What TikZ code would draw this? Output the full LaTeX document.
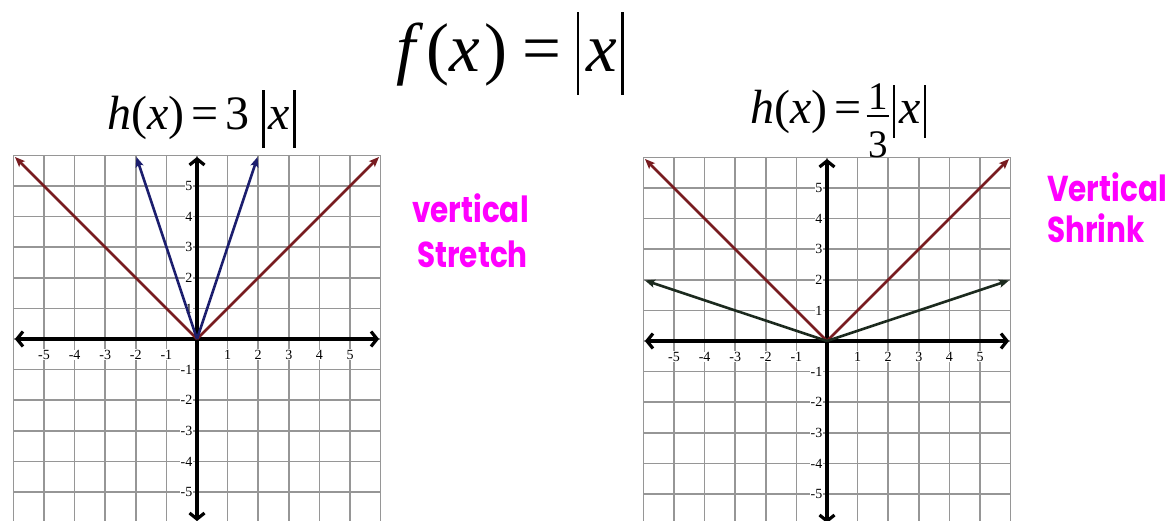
\documentclass[tikz,border=0pt]{standalone}
\usepackage{fontspec}
\usepackage{graphicx}
\setmainfont{Liberation Serif}
\newfontfamily\handfont{Poppins}
\usetikzlibrary{arrows.meta}
\definecolor{fnred}{RGB}{120,28,32}
\definecolor{fnblue}{RGB}{28,30,110}
\definecolor{fngreen}{RGB}{28,42,30}
\definecolor{gridgray}{RGB}{150,150,150}
\definecolor{handpink}{RGB}{255,0,255}
\newcommand{\absbar}[2]{\rule[-#2]{2.6pt}{\dimexpr#1+#2\relax}}
\newcommand{\tallhand}[1]{\scalebox{1}[1.22]{#1}}
\newcommand{\onethird}{\raisebox{-3pt}{\fontsize{39}{39}\selectfont\setlength{\arrayrulewidth}{2pt}\setlength{\tabcolsep}{1.5pt}\renewcommand{\arraystretch}{0}\begin{tabular}{c}\rule[-6pt]{0pt}{26pt}1\\\hline\rule{0pt}{40pt}3\end{tabular}}}
\begin{document}
\begin{tikzpicture}[x=1pt,y=-1pt,
  gridline/.style={gridgray, line width=1.6pt},
  axisline/.style={black, line width=3.2pt, {Straight Barb[length=6pt,width=15pt]}-{Straight Barb[length=6pt,width=15pt]}},
  fnline/.style={line width=2.6pt, -{Stealth[length=10pt,width=8pt,inset=2pt]}},
  ticklab/.style={font=\fontsize{14}{14}\selectfont, fill=white, inner sep=0.8pt},
  title/.style={anchor=base west, inner sep=0pt, font=\fontsize{48}{48}\selectfont},
  hand/.style={anchor=base west, inner sep=0pt, text=handpink, font=\handfont\bfseries\fontsize{29.5}{29.5}\selectfont}]
\useasboundingbox (0,0) rectangle (1175,521);
\fill[white] (0,0) rectangle (1175,521);

% ---------- left graph ----------
\begin{scope}[shift={(197,339)}, x=30.6pt, y=30.6pt]
  \foreach \i in {-6,...,6} {
    \draw[gridline] (\i,-6.2) -- (\i,6);
    \draw[gridline] (-6,\i) -- (6,\i);
  }
  \foreach \i in {-5,...,-1,1,2,3,4,5} {
    \node[ticklab] (Lx\i) at (\i,-0.52) {\i};
    \node[ticklab, anchor=east] (Ly\i) at (-0.12,\i) {\i};
  }
  \coordinate (LO) at (0,0);
  \coordinate (Lxa) at (-5.95,0);
  \coordinate (Lxb) at (5.95,0);
  \coordinate (Lya) at (0,-5.95);
  \coordinate (Lyb) at (0,5.95);
  \coordinate (Lr1) at (-5.95,5.95);
  \coordinate (Lr2) at (5.95,5.95);
  \coordinate (Lb1) at (-1.98,5.95);
  \coordinate (Lb2) at (1.98,5.95);
  \draw[axisline] (Lxa) -- (Lxb);
  \draw[axisline] (Lya) -- (Lyb);
  \draw[fnline, fnred] (LO) -- (Lr1);
  \draw[fnline, fnred] (LO) -- (Lr2);
  \draw[fnline, fnblue] (LO) -- (Lb1);
  \draw[fnline, fnblue] (LO) -- (Lb2);
\end{scope}

% ---------- right graph ----------
\begin{scope}[shift={(827,341)}, x=30.6pt, y=30.6pt]
  \foreach \i in {-6,...,6} {
    \draw[gridline] (\i,-6.2) -- (\i,6);
    \draw[gridline] (-6,\i) -- (6,\i);
  }
  \foreach \i in {-5,...,-1,1,2,3,4,5} {
    \node[ticklab] (Rx\i) at (\i,-0.52) {\i};
    \node[ticklab, anchor=east] (Ry\i) at (-0.12,\i) {\i};
  }
  \coordinate (RO) at (0,0);
  \coordinate (Rxa) at (-5.95,0);
  \coordinate (Rxb) at (5.95,0);
  \coordinate (Rya) at (0,-5.95);
  \coordinate (Ryb) at (0,5.95);
  \coordinate (Rr1) at (-5.95,5.95);
  \coordinate (Rr2) at (5.95,5.95);
  \coordinate (Rg1) at (-5.95,1.98);
  \coordinate (Rg2) at (5.95,1.98);
  \draw[axisline] (Rxa) -- (Rxb);
  \draw[axisline] (Rya) -- (Ryb);
  \draw[fnline, fnred] (RO) -- (Rr1);
  \draw[fnline, fnred] (RO) -- (Rr2);
  \draw[fnline, fngreen] (RO) -- (Rg1);
  \draw[fnline, fngreen] (RO) -- (Rg2);
\end{scope}

% ---------- titles ----------
\node[title, font=\fontsize{69}{69}\selectfont] (ftitle) at (396,72)
  {\textit{f}\hspace{0.05em}(\textit{x}\hspace{0.06em})\hspace{0.22em}=\hspace{0.22em}\absbar{60pt}{23pt}\hspace{0.1em}\textit{x}\hspace{0.06em}\absbar{60pt}{23pt}};
\node[title] (hleft) at (107,130)
  {\textit{h}(\textit{x})\hspace{0.15em}=\hspace{0.15em}3\hspace{0.26em}\absbar{40pt}{18pt}\hspace{0.08em}\textit{x}\hspace{0.06em}\absbar{40pt}{18pt}};
\node[title] (hright) at (750,124)
  {\textit{h}(\textit{x})\hspace{0.15em}=\hspace{0.1em}\onethird\hspace{0.08em}\absbar{39pt}{14pt}\hspace{0.08em}\textit{x}\hspace{0.06em}\absbar{39pt}{14pt}};

% ---------- handwritten notes ----------
\node[hand] (note1a) at (412,223) {\tallhand{vertical}};
\node[hand] (note1b) at (417,268) {\tallhand{Stretch}};
\node[hand] (note2a) at (1047,202) {\tallhand{Vertical}};
\node[hand] (note2b) at (1047,243) {\tallhand{Shrink}};
\end{tikzpicture}
\end{document}
